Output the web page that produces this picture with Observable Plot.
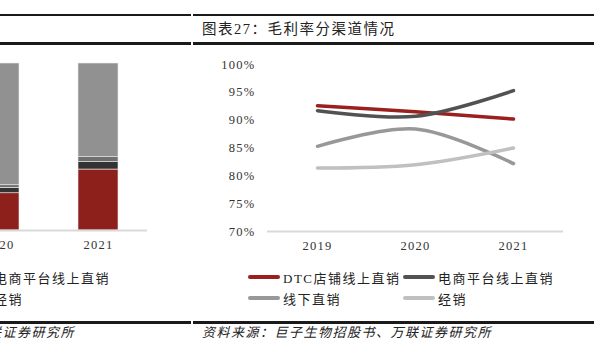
<!DOCTYPE html>
<html><head><meta charset="utf-8">
<script src="https://cdn.jsdelivr.net/npm/d3@7"></script>
<script src="https://cdn.jsdelivr.net/npm/@observablehq/plot@0.6"></script>
<style>
html,body{margin:0;padding:0;background:#fff;}
#page{position:relative;width:594px;height:354px;overflow:hidden;font-family:"Liberation Serif","Noto Sans CJK SC",serif;color:#222;}
.abs{position:absolute;}
.rule{position:absolute;background:#1a1a1a;}
.leg{position:absolute;height:18px;display:flex;align-items:center;white-space:nowrap;font-size:13px;letter-spacing:1.5px;color:#222;}
.leg .sw{display:inline-block;width:32px;height:4px;border-radius:2px;margin-right:3px;}
.src{position:absolute;white-space:nowrap;font-size:13px;letter-spacing:1.5px;font-style:italic;color:#222;line-height:18px;}
svg text{letter-spacing:1.3px;}
</style></head><body><div id="page"></div>
<script>
// ---- data ----
const years = ["2019", "2020", "2021"];
const channels = ["DTC店铺线上直销", "电商平台线上直销", "线下直销", "经销"];
const marginDTC = [92.6, 91.5, 90.2];
const marginEcom = [91.7, 90.7, 95.3];
const marginOffline = [85.3, 88.4, 82.2];
const marginDist = [81.4, 82.0, 85.0];
const lineColors = ["#9b1f1d", "#525252", "#989898", "#c0c0c0"];
const yTicks = [70, 75, 80, 85, 90, 95, 100];

const shareYears = ["2020", "2021"];
const shareDTC = [22.3, 36.5];
const shareEcom = [3.2, 4.4];
const shareOffline = [1.6, 3.0];
const shareDist = [72.9, 56.1];
const barColors = ["#8e201c", "#333333", "#707070", "#919191"];

const titleText = "图表27：毛利率分渠道情况";
const sourceText = "资料来源：巨子生物招股书、万联证券研究所";

const page = document.getElementById("page");
const fontFam = '"Liberation Serif","Noto Sans CJK SC",serif';

// ---- title band ----
function rule(x, y, w, h) {
  const d = document.createElement("div");
  d.className = "rule";
  Object.assign(d.style, {left: x + "px", top: y + "px", width: w + "px", height: h + "px"});
  page.appendChild(d);
}
rule(0, 14, 191, 2); rule(193, 14, 401, 2);
rule(0, 42, 191, 3); rule(193, 42, 401, 3);
rule(0, 321, 191, 3); rule(193, 321, 401, 3);

const title = document.createElement("div");
title.className = "abs";
Object.assign(title.style, {left: "202px", top: "19px", fontSize: "14.5px", letterSpacing: "1.5px", lineHeight: "20px", whiteSpace: "nowrap", color: "#222"});
title.textContent = titleText;
page.appendChild(title);

// ---- left (cropped) stacked bar chart ----
const barData = [];
[shareDTC, shareEcom, shareOffline, shareDist].forEach((arr, i) =>
  arr.forEach((v, j) => barData.push({channel: channels[i], year: shareYears[j], value: v})));

const barChart = Plot.plot({
  width: 198, height: 210, marginLeft: 0, marginRight: 0, marginTop: 13, marginBottom: 30,
  style: {fontFamily: fontFam, fontSize: "12.5px", color: "#333", background: "transparent", overflow: "visible"},
  x: {domain: shareYears, paddingInner: 0.6, paddingOuter: 0.3, label: null, tickSize: 0, tickPadding: 10},
  y: {domain: [0, 100], axis: null},
  color: {domain: channels, range: barColors},
  marks: [
    Plot.barY(barData, {x: "year", y: "value", fill: "channel", stroke: "#eeeeee", strokeWidth: 0.6}),
    Plot.ruleY([0], {stroke: "#d9d9d9", strokeWidth: 2})
  ]
});
Object.assign(barChart.style, {position: "absolute", left: "-51px", top: "50px"});
page.appendChild(barChart);

// ---- right line chart ----
const lineData = [];
[marginDTC, marginEcom, marginOffline, marginDist].forEach((arr, i) =>
  arr.forEach((v, j) => lineData.push({channel: channels[i], year: years[j], value: v})));

const lineChart = Plot.plot({
  width: 394, height: 211, marginLeft: 67, marginRight: 31, marginTop: 14, marginBottom: 30,
  style: {fontFamily: fontFam, fontSize: "12.5px", color: "#333", background: "transparent"},
  x: {type: "point", domain: years, padding: 0.5, label: null, tickSize: 0, tickPadding: 10},
  y: {domain: [70, 100], ticks: yTicks, tickFormat: d => d + "%", label: null, tickSize: 0, tickPadding: 12},
  color: {domain: channels, range: lineColors},
  marks: [
    Plot.ruleY([70], {stroke: "#d9d9d9", strokeWidth: 2}),
    Plot.lineY(lineData, {x: "year", y: "value", z: "channel", stroke: "channel", strokeWidth: 3.5, curve: "catmull-rom"})
  ]
});
Object.assign(lineChart.style, {position: "absolute", left: "200px", top: "50px"});
page.appendChild(lineChart);

// ---- legends ----
function legendItem(x, yc, color, text) {
  const d = document.createElement("div");
  d.className = "leg";
  d.style.left = x + "px";
  d.style.top = (yc - 9) + "px";
  const s = document.createElement("span");
  s.className = "sw";
  s.style.background = color;
  d.appendChild(s);
  const t = document.createElement("span");
  t.textContent = text;
  d.appendChild(t);
  page.appendChild(d);
}
legendItem(248, 277, lineColors[0], channels[0]);
legendItem(403, 277, lineColors[1], channels[1]);
legendItem(248, 298, lineColors[2], channels[2]);
legendItem(403, 298, lineColors[3], channels[3]);
// cropped legend of left chart
legendItem(-159, 277, barColors[0], channels[0]);
legendItem(-41, 277, barColors[1], channels[1]);
legendItem(-159, 298, barColors[2], channels[2]);
legendItem(-41, 298, barColors[3], channels[3]);

// ---- sources ----
const s1 = document.createElement("div");
s1.className = "src";
Object.assign(s1.style, {left: "202px", top: "324px"});
s1.textContent = sourceText;
page.appendChild(s1);
const s2 = document.createElement("div");
s2.className = "src";
Object.assign(s2.style, {right: "519px", top: "324px"});
s2.textContent = sourceText;
page.appendChild(s2);
</script></body></html>
